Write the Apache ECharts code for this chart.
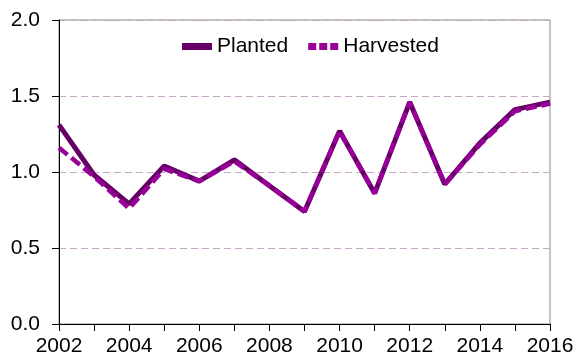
<!DOCTYPE html>
<html><head><meta charset="utf-8">
<script src="https://cdn.jsdelivr.net/npm/echarts@6/dist/echarts.min.js"></script>
<style>html,body{margin:0;padding:0;background:#fff}#c{width:577px;height:360px}</style>
</head><body><div id="c"></div>
<script>
const years = [2002,2003,2004,2005,2006,2007,2008,2009,2010,2011,2012,2013,2014,2015,2016];
const planted = [1.31,0.98,0.79,1.04,0.94,1.08,0.91,0.74,1.27,0.86,1.46,0.92,1.19,1.41,1.46];
const harvested = [1.16,0.97,0.76,1.02,0.94,1.07,0.91,0.74,1.27,0.86,1.46,0.92,1.18,1.40,1.45];
const yTicks = ['0.0','0.5','1.0','1.5','2.0'];

const chart = echarts.init(document.getElementById('c'));
const font = 'Liberation Sans, Arial, sans-serif';
chart.setOption({
  animation:false,
  grid:{left:59,top:20,right:27,bottom:36,show:true,borderColor:'#888',borderWidth:1},
  legend:{top:31,left:177,itemWidth:30,itemHeight:7,itemGap:20,
    textStyle:{fontFamily:font,fontSize:21,color:'#000'},
    data:[{name:'Planted',icon:'path://M0,0H30V7H0Z'},{name:'Harvested',icon:'path://M0,0H8V7H0ZM11,0H19V7H11ZM22,0H30V7H22Z'}]},
  xAxis:{type:'value',min:2002,max:2016,interval:1,
    axisLine:{lineStyle:{color:'#000',width:1}},
    axisTick:{show:true,length:7,lineStyle:{color:'#000'}},
    splitLine:{show:false},
    axisLabel:{fontFamily:font,fontSize:21,color:'#000',margin:12,
      formatter:v=>(v%2===0?String(v):'')}},
  yAxis:{type:'value',min:0,max:2,interval:0.5,
    axisLine:{show:true,lineStyle:{color:'#000',width:1}},
    axisTick:{show:true,length:7,lineStyle:{color:'#000'}},
    splitLine:{show:true,lineStyle:{color:'#c8a8c8',type:[7,4],width:1}},
    axisLabel:{fontFamily:font,fontSize:21,color:'#000',margin:19,
      formatter:v=>yTicks[Math.round(v/0.5)]}},
  series:[
    {name:'Planted',type:'line',data:years.map((y,i)=>[y,planted[i]]),symbol:'none',
      itemStyle:{color:'#660066'},lineStyle:{color:'#660066',width:5}},
    {name:'Harvested',type:'line',data:years.map((y,i)=>[y,harvested[i]]),symbol:'none',
      itemStyle:{color:'#990099'},lineStyle:{color:'#990099',width:4.5,type:[11,5]}}
  ]
});
</script></body></html>
